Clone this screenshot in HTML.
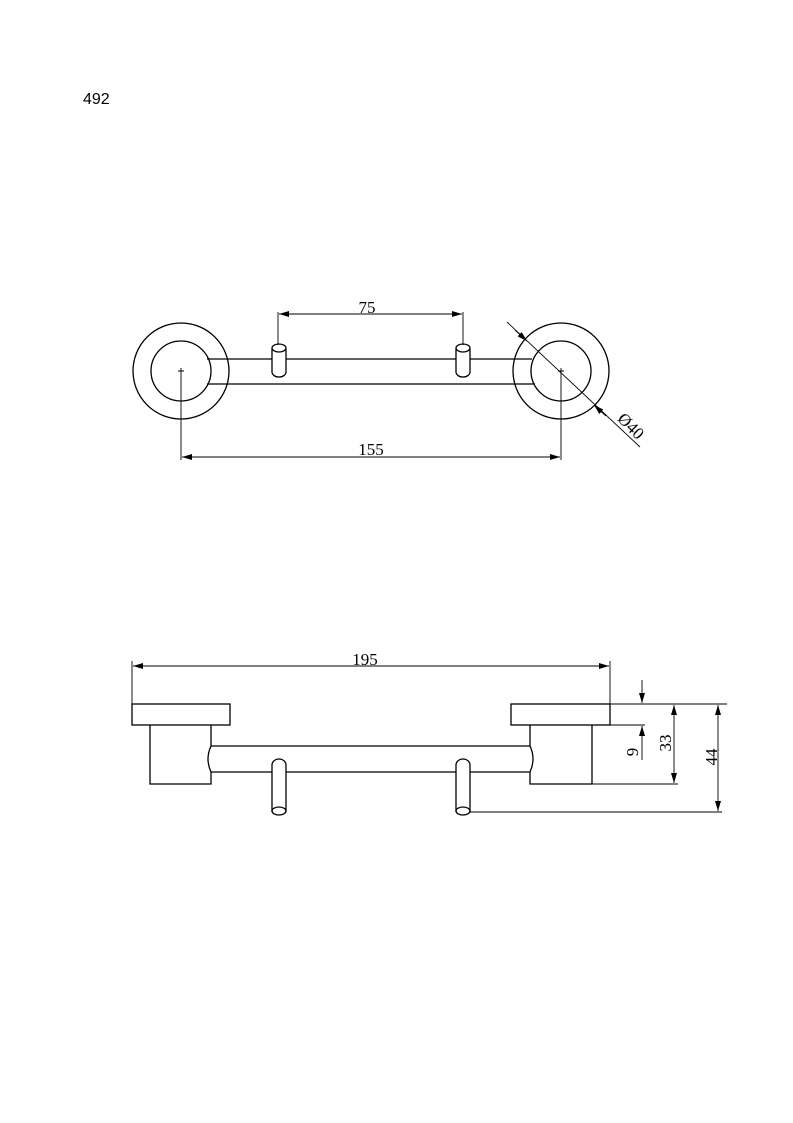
<!DOCTYPE html>
<html><head><meta charset="utf-8"><style>html,body{margin:0;padding:0;background:#fff}svg{display:block}</style></head>
<body>
<svg width="793" height="1123" viewBox="0 0 793 1123" xmlns="http://www.w3.org/2000/svg">
<defs>
<marker id="a" viewBox="0 0 10 6" refX="10" refY="3" markerWidth="10" markerHeight="6" orient="auto-start-reverse" markerUnits="userSpaceOnUse"><path d="M0,0 L10,3 L0,6 z" fill="#000"/></marker>
</defs>
<text x="83" y="104" font-family="Liberation Sans, sans-serif" font-size="16">492</text>
<g fill="none" stroke="#000" stroke-width="1.3">
<circle cx="181" cy="371" r="48"/><circle cx="181" cy="371" r="30"/>
<circle cx="561" cy="371" r="48"/><circle cx="561" cy="371" r="30"/>
<path d="M207,359 H272 M286,359 H456 M470,359 H532 M207,384 H535"/>
<path d="M272,349 V372 A7,5 0 0 0 286,372 V349"/><ellipse cx="279" cy="348" rx="7" ry="4"/>
<path d="M456,349 V372 A7,5 0 0 0 470,372 V349"/><ellipse cx="463" cy="348" rx="7" ry="4"/>
<path d="M178,371 H184 M181,368 V374 M558,371 H564 M561,368 V374" stroke-width="0.9"/>
<path d="M278,312 V345 M463,312 V345" stroke-width="0.9"/>
<line x1="279" y1="314" x2="462" y2="314" stroke-width="0.9" marker-start="url(#a)" marker-end="url(#a)"/>
<path d="M181,374 V460 M561,374 V460" stroke-width="0.9"/>
<line x1="182" y1="457" x2="560" y2="457" stroke-width="0.9" marker-start="url(#a)" marker-end="url(#a)"/>
<line x1="507" y1="322" x2="640" y2="447" stroke-width="0.9"/>
<line x1="515" y1="330" x2="527" y2="341" stroke-width="0.9" marker-end="url(#a)"/>
<line x1="606" y1="416" x2="594" y2="405" stroke-width="0.9" marker-end="url(#a)"/>
<rect x="132" y="704" width="98" height="21"/>
<path d="M150,725 V784 H211 V772 Q205,759 211,746 V725"/>
<rect x="511" y="704" width="99" height="21"/>
<path d="M592,725 V784 H530 V772 Q536,759 530,746 V725"/>
<path d="M211,746 H530 M211,772 H272 M286,772 H456 M470,772 H530"/>
<path d="M272,812 V765 A7,6 0 0 1 286,765 V812"/><ellipse cx="279" cy="811" rx="7" ry="4"/>
<path d="M456,812 V765 A7,6 0 0 1 470,765 V812"/><ellipse cx="463" cy="811" rx="7" ry="4"/>
<path d="M132,661 V704 M610,661 V704" stroke-width="0.9"/>
<line x1="133" y1="666" x2="609" y2="666" stroke-width="0.9" marker-start="url(#a)" marker-end="url(#a)"/>
<path d="M610,704 H727 M610,725 H645 M592,784 H678 M470,812 H722" stroke-width="0.9"/>
<line x1="642" y1="680" x2="642" y2="703" stroke-width="0.9" marker-end="url(#a)"/>
<line x1="642" y1="760" x2="642" y2="726" stroke-width="0.9" marker-end="url(#a)"/>
<line x1="674" y1="705" x2="674" y2="783" stroke-width="0.9" marker-start="url(#a)" marker-end="url(#a)"/>
<line x1="718" y1="705" x2="718" y2="811" stroke-width="0.9" marker-start="url(#a)" marker-end="url(#a)"/>
</g>
<g font-family="Liberation Serif, serif" font-size="17" fill="#000" text-anchor="middle">
<text x="367" y="313">75</text>
<text x="371" y="455">155</text>
<text x="365" y="665">195</text>
<text transform="translate(627,430) rotate(45)">Ø40</text>
<text transform="translate(638,752) rotate(-90)">9</text>
<text transform="translate(671,743) rotate(-90)">33</text>
<text transform="translate(717,757) rotate(-90)">44</text>
</g>
</svg>
</body></html>
